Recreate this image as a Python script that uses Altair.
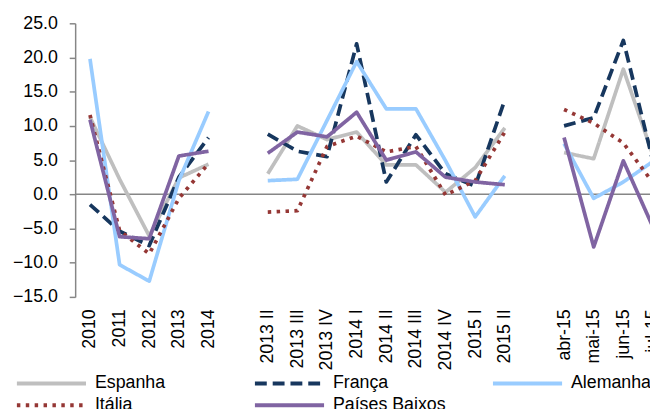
import altair as alt
import pandas as pd

# ---------------- data ----------------
years = ["2010", "2011", "2012", "2013", "2014"]
quarters = ["2013 II", "2013 III", "2013 IV", "2014 I", "2014 II",
            "2014 III", "2014 IV", "2015 I", "2015 II"]
months = ["abr-15", "mai-15", "jun-15", "jul-15"]
gaps = [" ", "  "]

series = ["Espanha", "França", "Alemanha", "Itália", "Países Baixos"]
colors = ["#BFBFBF", "#17375E", "#99CCFF", "#953735", "#8064A2"]
dashes = [[1, 0], [12, 6], [1, 0], [3.5, 5.5], [1, 0]]

espanha_y = [11.3, 2.2, -6.1, 2.4, 4.4]
espanha_q = [3.0, 10.0, 8.0, 9.1, 4.3, 4.3, 0.3, 3.9, 9.7]
espanha_m = [6.1, 5.2, 18.3, 5.7]

franca_y = [-1.5, -5.4, -7.5, 2.5, 8.3]
franca_q = [8.8, 6.3, 5.5, 22.0, 1.8, 8.7, 3.0, 1.2, 13.8]
franca_m = [10.0, 11.2, 22.5, 4.8]

alemanha_y = [19.8, -10.3, -12.7, 2.0, 12.1]
alemanha_q = [2.0, 2.2, 10.8, 19.4, 12.5, 12.5, 4.9, -3.3, 2.7]
alemanha_m = [7.4, -0.6, 1.8, 4.8]

italia_y = [11.6, -5.3, -8.7, -0.6, 4.5]
italia_q = [-2.6, -2.4, 7.0, 8.5, 6.2, 7.0, -0.1, 2.0, 9.1]
italia_m = [12.4, 10.4, 7.5, 1.7]

pb_y = [10.9, -6.2, -6.5, 5.6, 6.3]
pb_q = [6.0, 9.1, 8.4, 12.0, 5.0, 6.2, 2.5, 1.8, 1.4]
pb_m = [8.3, -7.7, 4.9, -4.8]

values = {
    "Espanha": (espanha_y, espanha_q, espanha_m),
    "França": (franca_y, franca_q, franca_m),
    "Alemanha": (alemanha_y, alemanha_q, alemanha_m),
    "Itália": (italia_y, italia_q, italia_m),
    "Países Baixos": (pb_y, pb_q, pb_m),
}

rows = []
for s in series:
    for seg, (cats, vals) in enumerate(zip((years, quarters, months), values[s])):
        for c, v in zip(cats, vals):
            rows.append({"cat": c, "value": v, "series": s, "seg": seg})
df = pd.DataFrame(rows)

domain = years + [gaps[0]] + quarters + [gaps[1]] + months
FONT = "Liberation Sans"

leg = alt.Legend(
    title=None, orient="none", legendX=-36, legendY=352.7, direction="horizontal",
    columns=3, gridAlign="all", columnPadding=39, rowPadding=1,
    symbolType="M-3.5,0H3.5", symbolSize=400, symbolStrokeWidth=4,
    labelFont=FONT, labelFontSize=18, labelColor="black", labelOffset=32,
    padding=0,
)

yaxis = alt.Axis(title=None, values=[-15, -10, -5, 0, 5, 10, 15, 20, 25], format=".1f",
                 labelFont=FONT, labelFontSize=18, labelColor="black",
                 domainColor="#868686", domainWidth=1.5, tickColor="#868686",
                 tickWidth=1.5, tickSize=6, labelPadding=12, grid=False,
                 labelOverlap=False, labelBound=False, labelFlush=False)
yscale = alt.Scale(domain=[-15, 25], nice=False, zero=False)

lines = alt.Chart(df).mark_line(strokeWidth=3.75, clip=True, strokeJoin="round").encode(
    x=alt.X("cat:N", sort=domain,
            scale=alt.Scale(type="point", domain=domain, range=[15, 585], padding=0),
            axis=alt.Axis(title=None, labelAngle=-90, domain=False, ticks=False, tickSize=0,
                          labelPadding=12, labelFont=FONT, labelFontSize=18,
                          labelColor="black", grid=False, labelOverlap=False)),
    y=alt.Y("value:Q", scale=yscale, axis=yaxis),
    color=alt.Color("series:N", scale=alt.Scale(domain=series, range=colors), legend=leg),
    strokeDash=alt.StrokeDash("series:N", scale=alt.Scale(domain=series, range=dashes), legend=leg),
    detail="seg:N",
)

zero = alt.Chart(pd.DataFrame({"z": [0]})).mark_rule(color="#868686", strokeWidth=1.5).encode(
    y=alt.Y("z:Q", scale=yscale, axis=yaxis)
)

chart = alt.layer(zero, lines).properties(
    width=582, height=277,
    autosize=alt.AutoSizeParams(type="none"),
    padding={"left": 68, "top": 13, "right": 0, "bottom": 111},
).configure_view(stroke=None).configure_axisY(labelOverlap=False)

chart.save("out.html", embed_options={"renderer": "svg", "actions": False})
